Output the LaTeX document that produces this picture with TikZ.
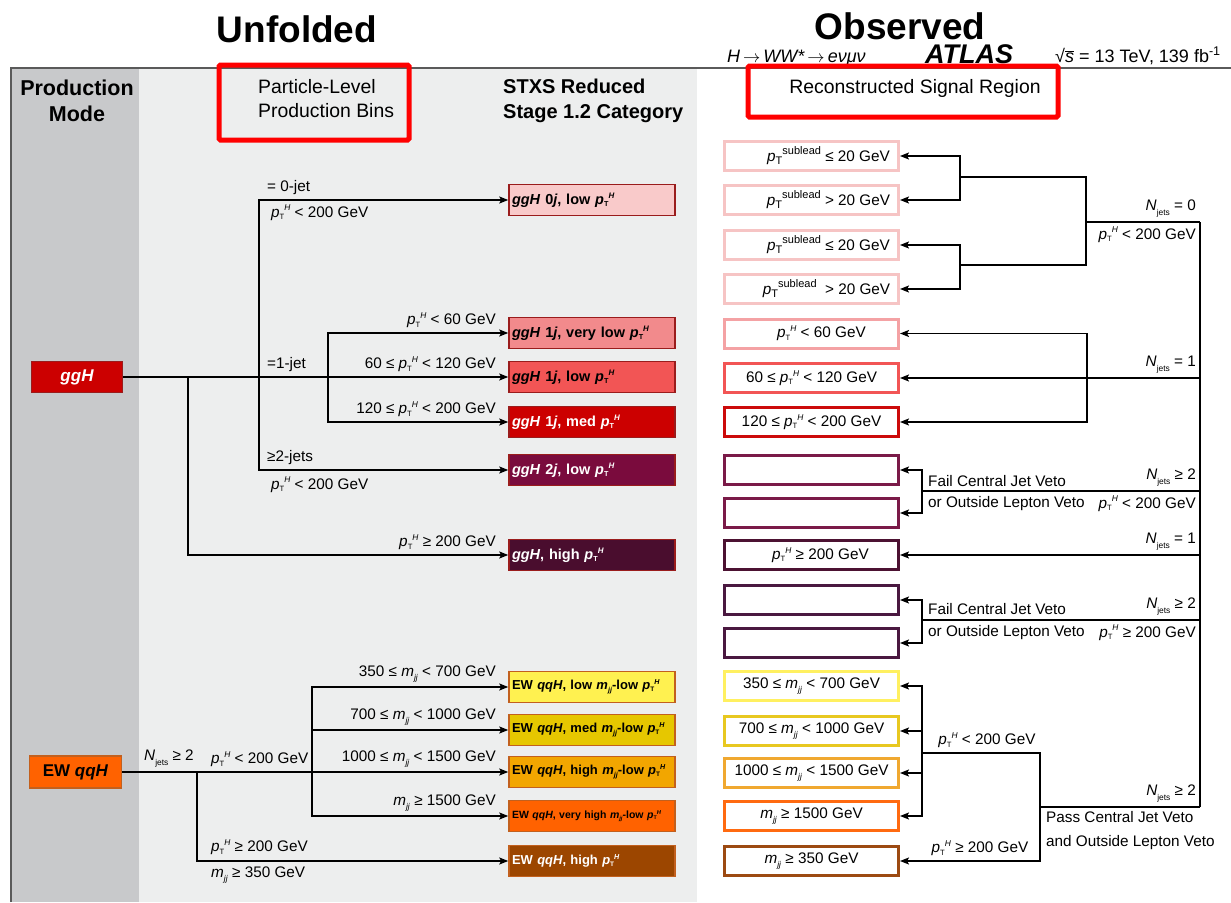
\documentclass[tikz,border=0pt]{standalone}
\usepackage{fontspec}
\usepackage{graphicx}
\setmainfont{Liberation Sans}
\usetikzlibrary{arrows.meta}

% kinematic symbols
\newcommand{\pTH}{\textit{p}\raisebox{-0.3ex}{\scalebox{0.5}{T}}\raisebox{0.75ex}{\scalebox{0.55}{\textit{H}}}}
\newcommand{\pTsub}{\textit{p}\raisebox{-0.3ex}{\scalebox{0.72}{T}}\raisebox{0.85ex}{\scalebox{0.72}{sublead}}}
\newcommand{\Nj}{\textit{N}\raisebox{-0.55ex}{\scalebox{0.55}{jets}}}
\newcommand{\mjj}{\textit{m}\raisebox{-0.45ex}{\scalebox{0.55}{\textit{jj}}}}

% panels and frame
\definecolor{panelgray}{HTML}{C8C9CB}
\definecolor{panellight}{HTML}{EDEEEE}
\definecolor{frameline}{HTML}{5A5A5A}
\definecolor{hlred}{HTML}{FF0000}
% ggH categories
\definecolor{cA}{HTML}{F9CACA}
\definecolor{cB}{HTML}{F28A8C}
\definecolor{cC}{HTML}{F25555}
\definecolor{cD}{HTML}{CC0000}
\definecolor{cE}{HTML}{7A0B3D}
\definecolor{cF}{HTML}{4A0D2E}
\definecolor{gborder}{HTML}{9A1C1C}
% EW qqH categories
\definecolor{qA}{HTML}{FFF150}
\definecolor{qB}{HTML}{E6C700}
\definecolor{qC}{HTML}{F2A600}
\definecolor{qD}{HTML}{FF6200}
\definecolor{qE}{HTML}{9C4600}
\definecolor{qborder}{HTML}{C2601E}
% reconstructed region outlines
\definecolor{rS}{HTML}{F6C4C4}
\definecolor{rA}{HTML}{F4A2A4}
\definecolor{rB}{HTML}{F25555}
\definecolor{rC}{HTML}{CC0A0A}
\definecolor{rD}{HTML}{7A1A48}
\definecolor{rE}{HTML}{4C1232}
\definecolor{rF}{HTML}{4A1840}
\definecolor{mA}{HTML}{FFF060}
\definecolor{mB}{HTML}{E8C820}
\definecolor{mC}{HTML}{F0A830}
\definecolor{mD}{HTML}{FF6A10}
\definecolor{mE}{HTML}{9C4A12}

\tikzset{
  conn/.style={line width=1.8pt, black},
  arr/.style={conn, -{Stealth[length=9pt,width=7pt,inset=2pt]}},
  darr/.style={conn, {Stealth[length=9pt,width=7pt,inset=2pt]}-{Stealth[length=9pt,width=7pt,inset=2pt]}},
  cat/.style={draw=gborder, line width=1.5pt, minimum width=166pt, minimum height=31pt,
    text width=160pt, align=left, inner xsep=3pt, inner ysep=0pt,
    font=\fontsize{14.5}{16}\selectfont\bfseries},
  ewcat/.style={cat, draw=qborder, font=\fontsize{13}{15}\selectfont\bfseries},
  reco/.style={draw, line width=3pt, fill=white, minimum width=174pt, minimum height=29pt,
    inner sep=0pt, font=\fontsize{15.3}{17}\selectfont},
  lab/.style={font=\fontsize{15.3}{17}\selectfont, inner sep=1pt},
  head/.style={font=\fontsize{21.5}{26}\selectfont\bfseries, align=center, inner sep=0pt},
  headl/.style={font=\fontsize{19.4}{24}\selectfont, align=left, inner sep=0pt},
  hlbox/.style={draw=hlred, line width=5pt, rounded corners=1.5pt},
}

\begin{document}
\begin{tikzpicture}[x=1pt,y=-1pt]
\useasboundingbox (0,0) rectangle (1231,902);
\fill[white] (0,0) rectangle (1231,902);

% background panels
\fill[panelgray] (11,68) rectangle (139,902);
\fill[panellight] (139,68) rectangle (697,902);
\draw[frameline, line width=1.5pt] (11,902) -- (11,68) -- (1231,68);

% titles
\node[font=\fontsize{37}{40}\selectfont\bfseries] (unf) at (297,29) {Unfolded};
\node[font=\fontsize{37}{40}\selectfont\bfseries] (obs) at (900,26) {Observed};
\node[anchor=base west, font=\fontsize{18}{20}\selectfont\itshape, inner sep=0pt] (proc) at (727,62)
  {H\,$\rightarrow$\,WW*\,$\rightarrow$\,eνμν};
\node[anchor=base west, font=\fontsize{27}{30}\selectfont\bfseries\itshape, inner sep=0pt] (atlas) at (925,63) {ATLAS};
\node[anchor=base west, font=\fontsize{18}{20}\selectfont, inner sep=0pt] (lumi) at (1055,62)
  {√$\overline{\mbox{\textit{s}}}$ = 13 TeV, 139 fb\textsuperscript{-1}};

% column headers
\node[head] (hprod) at (77,101) {Production\\Mode};
\node[headl, anchor=west] (hpart) at (258,99) {Particle-Level\\Production Bins};
\node[head, align=left, anchor=west, font=\fontsize{20}{25}\selectfont\bfseries] (hstxs) at (503,101)
  {STXS Reduced\\Stage 1.2 Category};
\node[headl] (hreco) at (915,88) {Reconstructed Signal Region};
\draw[hlbox] (219,65) rectangle (409,140);
\draw[hlbox] (748,66) rectangle (1058,117);

% production modes
\node[draw=gborder, fill=cD, line width=1.2pt, minimum width=91pt, minimum height=31pt,
  text=white, font=\fontsize{17}{20}\selectfont\bfseries\itshape] (ggH) at (77,377) {ggH};
\node[draw=qborder, fill=qD, line width=1.2pt, minimum width=92pt, minimum height=32pt,
  font=\fontsize{17}{20}\selectfont\bfseries] (qqH) at (75.5,772) {EW \textit{qqH}};

% STXS categories
\node[cat, fill=cA] (g0) at (592,200) {\textit{ggH} 0\textit{j}, low \pTH};
\node[cat, fill=cB] (g1v) at (592,333) {\textit{ggH} 1\textit{j}, very low \pTH};
\node[cat, fill=cC] (g1l) at (592,377) {\textit{ggH} 1\textit{j}, low \pTH};
\node[cat, fill=cD, text=white] (g1m) at (592,422) {\textit{ggH} 1\textit{j}, med \pTH};
\node[cat, fill=cE, text=white] (g2) at (592,470) {\textit{ggH} 2\textit{j}, low \pTH};
\node[cat, fill=cF, text=white] (ghi) at (592,555) {\textit{ggH}, high \pTH};
\node[ewcat, fill=qA] (q1) at (592,687) {EW \textit{qqH}, low \mjj-low \pTH};
\node[ewcat, fill=qB] (q2) at (592,730) {EW \textit{qqH}, med \mjj-low \pTH};
\node[ewcat, fill=qC] (q3) at (592,772) {EW \textit{qqH}, high \mjj-low \pTH};
\node[ewcat, fill=qD, font=\fontsize{10.5}{12}\selectfont\bfseries] (q4) at (592,816)
  {\mbox{EW \textit{qqH}, very high \mjj-low \pTH}};
\node[ewcat, fill=qE, text=white] (q5) at (592,861) {EW \textit{qqH}, high \pTH};

% reconstructed signal regions
\node[reco, draw=rS] (s1) at (811.5,156) {\hspace*{34pt}\pTsub\ ≤ 20 GeV};
\node[reco, draw=rS] (s2) at (811.5,200) {\hspace*{34pt}\pTsub\ > 20 GeV};
\node[reco, draw=rS] (s3) at (811.5,245) {\hspace*{34pt}\pTsub\ ≤ 20 GeV};
\node[reco, draw=rS] (s4) at (811.5,289) {\hspace*{30pt}\pTsub\ \ > 20 GeV};
\node[reco, draw=rA] (r1) at (811.5,333.5) {\hspace*{20pt}\pTH\ < 60 GeV};
\node[reco, draw=rB] (r2) at (811.5,378) {60 ≤ \pTH\ < 120 GeV};
\node[reco, draw=rC] (r3) at (811.5,422) {120 ≤ \pTH\ < 200 GeV};
\node[reco, draw=rD] (e1) at (811.5,470) {};
\node[reco, draw=rD] (e2) at (811.5,513) {};
\node[reco, draw=rE] (r5) at (811.5,555) {\hspace*{18pt}\pTH\ ≥ 200 GeV};
\node[reco, draw=rF] (e3) at (811.5,600) {};
\node[reco, draw=rF] (e4) at (811.5,643) {};
\node[reco, draw=mA] (m1) at (811.5,686) {350 ≤ \mjj\ < 700 GeV};
\node[reco, draw=mB] (m2) at (811.5,731) {700 ≤ \mjj\ < 1000 GeV};
\node[reco, draw=mC] (m3) at (811.5,773) {1000 ≤ \mjj\ < 1500 GeV};
\node[reco, draw=mD] (m4) at (811.5,816) {\mjj\ ≥ 1500 GeV};
\node[reco, draw=mE] (m5) at (811.5,861) {\mjj\ ≥ 350 GeV};

% ---- ggH particle-level tree ----
\coordinate (jC) at (188,377);
\coordinate (jA) at (259,377);
\coordinate (jB) at (328,377);
\draw[arr] (ggH.east) -- (g1l.west);
\draw[arr] (jC) |- (ghi.west);
\draw[arr] (jA) |- (g0.west);
\draw[arr] (jA) |- (g2.west);
\draw[arr] (jB) |- (g1v.west);
\draw[arr] (jB) |- (g1m.west);

\node[lab, anchor=south west] (l0j) at (266,196) {= 0-jet};
\node[lab, anchor=north west] (l0p) at (270,204) {\pTH\ < 200 GeV};
\node[lab, anchor=south west] (l1j) at (266,373) {=1-jet};
\node[lab, anchor=south west] (l2j) at (266,466) {≥2-jets};
\node[lab, anchor=north west] (l2p) at (270,476) {\pTH\ < 200 GeV};
\node[lab, anchor=south east] (l1a) at (497,329) {\pTH\ < 60 GeV};
\node[lab, anchor=south east] (l1b) at (497,373) {60 ≤ \pTH\ < 120 GeV};
\node[lab, anchor=south east] (l1c) at (497,418) {120 ≤ \pTH\ < 200 GeV};
\node[lab, anchor=south east] (lhi) at (497,551) {\pTH\ ≥ 200 GeV};

% ---- EW qqH particle-level tree ----
\coordinate (jD) at (197,772);
\coordinate (jE) at (312,772);
\draw[arr] (qqH.east) -- (q3.west);
\draw[arr] (jD) |- (q5.west);
\draw[arr] (jE) |- (q1.west);
\draw[arr] (jE) |- (q2.west);
\draw[arr] (jE) |- (q4.west);

\node[lab, anchor=south west] (lqn) at (143,768) {\Nj\ ≥ 2};
\node[lab, anchor=south west] (lqp) at (210,768) {\pTH\ < 200 GeV};
\node[lab, anchor=south east] (lq1) at (497,683) {350 ≤ \mjj\ < 700 GeV};
\node[lab, anchor=south east] (lq2) at (497,726) {700 ≤ \mjj\ < 1000 GeV};
\node[lab, anchor=south east] (lq3) at (497,768) {1000 ≤ \mjj\ < 1500 GeV};
\node[lab, anchor=south east] (lq4) at (497,812) {\mjj\ ≥ 1500 GeV};
\node[lab, anchor=south west] (lq5) at (210,856) {\pTH\ ≥ 200 GeV};
\node[lab, anchor=north west] (lq6) at (210,866) {\mjj\ ≥ 350 GeV};

% ---- reconstructed selection tree ----
\coordinate (R0) at (1200,222);
\coordinate (R1) at (1200,378);
\coordinate (R2) at (1200,491);
\coordinate (R3) at (1200,555);
\coordinate (R4) at (1200,620);
\coordinate (R5) at (1200,807);
\draw[conn] (R0) -- (R5);

% N_jets = 0
\coordinate (J0) at (1086,222);
\coordinate (S1) at (960,177);
\coordinate (S2) at (960,265);
\draw[conn] (R0) -- (J0);
\draw[conn] (S1) -| (J0);
\draw[conn] (S2) -| (J0);
\draw[arr] (S1) |- (s1.east);
\draw[arr] (S1) |- (s2.east);
\draw[arr] (S2) |- (s3.east);
\draw[arr] (S2) |- (s4.east);

% N_jets = 1
\coordinate (K) at (1087,0);
\draw[arr] (R1) -- (r2.east);
\draw[darr] (r1.east) -- (r1.east -| K) -- (r3.east -| K) -- (r3.east);

% N_jets >= 2, failing the vetoes
\coordinate (C1) at (922,491);
\coordinate (C2) at (922,620);
\draw[conn] (R2) -- (C1);
\draw[arr] (C1) |- (e1.east);
\draw[arr] (C1) |- (e2.east);
\draw[arr] (R3) -- (r5.east);
\draw[conn] (R4) -- (C2);
\draw[arr] (C2) |- (e3.east);
\draw[arr] (C2) |- (e4.east);

% N_jets >= 2, passing the vetoes
\coordinate (P) at (1040,807);
\coordinate (M) at (922,753);
\draw[conn] (R5) -- (P);
\draw[conn] (M) -| (P);
\draw[arr] (P) |- (m5.east);
\draw[arr] (M) |- (m1.east);
\draw[arr] (M) |- (m2.east);
\draw[arr] (M) |- (m3.east);
\draw[arr] (M) |- (m4.east);

\node[lab, anchor=south east] (n0) at (1197,218) {\Nj\ = 0};
\node[lab, anchor=north east] (n0p) at (1197,226) {\pTH\ < 200 GeV};
\node[lab, anchor=south east] (n1) at (1197,374) {\Nj\ = 1};
\node[lab, anchor=south west] (f1) at (927,488) {Fail Central Jet Veto};
\node[lab, anchor=north west] (f1b) at (927,495) {or Outside Lepton Veto};
\node[lab, anchor=south east] (n2) at (1197,487) {\Nj\ ≥ 2};
\node[lab, anchor=north east] (n2p) at (1197,495) {\pTH\ < 200 GeV};
\node[lab, anchor=south east] (n1b) at (1197,551) {\Nj\ = 1};
\node[lab, anchor=south west] (f2) at (927,616) {Fail Central Jet Veto};
\node[lab, anchor=north west] (f2b) at (927,624) {or Outside Lepton Veto};
\node[lab, anchor=south east] (n3) at (1197,616) {\Nj\ ≥ 2};
\node[lab, anchor=north east] (n3p) at (1197,624) {\pTH\ ≥ 200 GeV};
\node[lab, anchor=south] (pm1) at (987,749) {\pTH\ < 200 GeV};
\node[lab, anchor=south] (pm2) at (980,857) {\pTH\ ≥ 200 GeV};
\node[lab, anchor=south east] (n4) at (1197,803) {\Nj\ ≥ 2};
\node[lab, anchor=north west] (pa) at (1045,810) {Pass Central Jet Veto};
\node[lab, anchor=north west] (pb) at (1045,834) {and Outside Lepton Veto};
\end{tikzpicture}
\end{document}
